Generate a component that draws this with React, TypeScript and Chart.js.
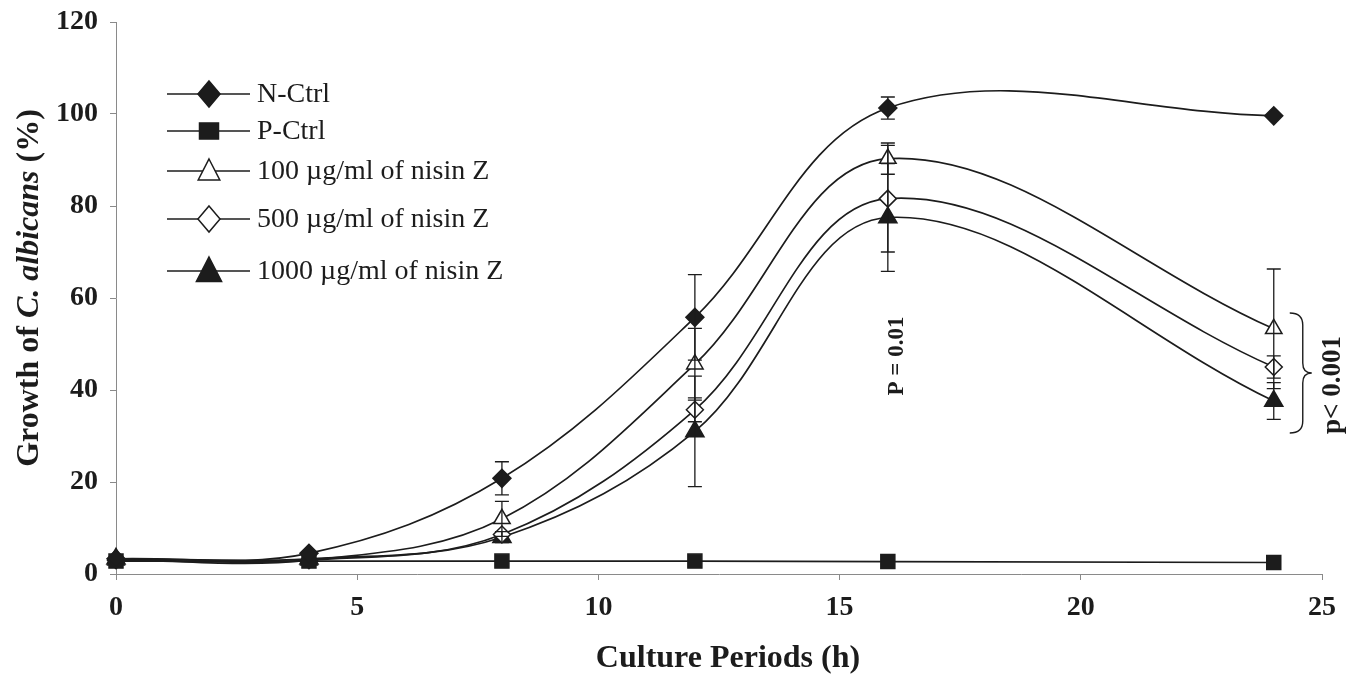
import React, { useEffect, useRef } from 'react';
import { Chart, registerables } from 'chart.js';

Chart.register(...registerables);

// ---- data ----
const hours = [0, 4, 8, 12, 16, 24];
const nCtrl = [3.3, 4.5, 20.8, 55.8, 101.3, 99.6];
const pCtrl = [2.8, 2.8, 2.8, 2.8, 2.7, 2.5];
const nisin100 = [3.0, 3.0, 12.0, 45.6, 90.3, 53.3];
const nisin500 = [3.0, 3.0, 8.6, 35.7, 81.6, 45.0];
const nisin1000 = [3.3, 3.3, 8.0, 31.0, 77.5, 37.6];

const nCtrlErr = [0, 0, 3.6, 9.3, 2.4, 0];
const pCtrlErr = [0, 0, 0, 0, 0, 0];
const nisin100Err = [0, 0, 3.8, 7.8, 3.4, 13.0];
const nisin500Err = [0, 0, 0, 2.6, 11.6, 2.4];
const nisin1000Err = [0, 0, 1.2, 12.0, 11.7, 4.0];

const seriesLabels = [
  'N-Ctrl',
  'P-Ctrl',
  '100 \u00b5g/ml of nisin Z',
  '500 \u00b5g/ml of nisin Z',
  '1000 \u00b5g/ml of nisin Z',
];
const xTickValues = [0, 5, 10, 15, 20, 25];
const yTickValues = [0, 20, 40, 60, 80, 100, 120];
const xTitle = 'Culture Periods (h)';
const yTitleParts = ['Growth of ', 'C. albicans', ' (%)'];
const note16 = 'P = 0.01';
const note24 = 'p< 0.001';

const INK = '#1c1c1c';
const SERIF = '"Liberation Serif", "DejaVu Serif", serif';

type MarkerKind = 'diamond' | 'square' | 'triangle';
const markerDefs: { kind: MarkerKind; filled: boolean; r: number; lr: number }[] = [
  { kind: 'diamond', filled: true, r: 9, lr: 13 },
  { kind: 'square', filled: true, r: 7, lr: 9.5 },
  { kind: 'triangle', filled: false, r: 9.5, lr: 12 },
  { kind: 'diamond', filled: false, r: 8.5, lr: 13 },
  { kind: 'triangle', filled: true, r: 10.5, lr: 14 },
];

function drawMarker(ctx: CanvasRenderingContext2D, kind: MarkerKind, filled: boolean, x: number, y: number, r: number) {
  ctx.save();
  ctx.beginPath();
  if (kind === 'diamond') {
    ctx.moveTo(x, y - r);
    ctx.lineTo(x + r * 0.85, y);
    ctx.lineTo(x, y + r);
    ctx.lineTo(x - r * 0.85, y);
    ctx.closePath();
  } else if (kind === 'square') {
    ctx.rect(x - r, y - r * 0.85, 2 * r, 1.7 * r);
  } else {
    ctx.moveTo(x, y - r);
    ctx.lineTo(x + r * 0.9, y + r * 0.75);
    ctx.lineTo(x - r * 0.9, y + r * 0.75);
    ctx.closePath();
  }
  ctx.fillStyle = filled ? INK : '#ffffff';
  ctx.fill();
  ctx.lineWidth = 1.5;
  ctx.strokeStyle = INK;
  ctx.stroke();
  ctx.restore();
}

const seriesValues = [nCtrl, pCtrl, nisin100, nisin500, nisin1000];
const seriesErrors = [nCtrlErr, pCtrlErr, nisin100Err, nisin500Err, nisin1000Err];

const errorBarPlugin = {
  id: 'errorBars',
  afterDatasetsDraw(chart: any) {
    const ctx: CanvasRenderingContext2D = chart.ctx;
    const xs = chart.scales.x;
    const ys = chart.scales.y;
    ctx.save();
    ctx.strokeStyle = INK;
    ctx.lineWidth = 1.3;
    seriesValues.forEach((vals, si) => {
      const errs = seriesErrors[si];
      vals.forEach((v, i) => {
        const e = errs[i];
        if (!e) return;
        const px = xs.getPixelForValue(hours[i]);
        const top = ys.getPixelForValue(v + e);
        const bot = ys.getPixelForValue(v - e);
        ctx.beginPath();
        ctx.moveTo(px, top);
        ctx.lineTo(px, bot);
        ctx.moveTo(px - 7, top);
        ctx.lineTo(px + 7, top);
        ctx.moveTo(px - 7, bot);
        ctx.lineTo(px + 7, bot);
        ctx.stroke();
      });
    });
    ctx.restore();
  },
};

const decorPlugin = {
  id: 'decor',
  afterDraw(chart: any) {
    const ctx: CanvasRenderingContext2D = chart.ctx;
    const xs = chart.scales.x;
    ctx.save();

    // legend
    const rows = [94, 131, 171, 219, 271];
    seriesLabels.forEach((label, i) => {
      const y = rows[i];
      ctx.beginPath();
      ctx.strokeStyle = INK;
      ctx.lineWidth = 1.6;
      ctx.moveTo(167, y);
      ctx.lineTo(250, y);
      ctx.stroke();
      const m = markerDefs[i];
      drawMarker(ctx, m.kind, m.filled, 209, y, m.lr);
      ctx.fillStyle = INK;
      ctx.font = `28px ${SERIF}`;
      ctx.textAlign = 'left';
      ctx.textBaseline = 'middle';
      ctx.fillText(label, 257, y + 1);
    });

    // x title
    ctx.fillStyle = INK;
    ctx.font = `bold 32px ${SERIF}`;
    ctx.textAlign = 'center';
    ctx.textBaseline = 'middle';
    ctx.fillText(xTitle, 728, 659);

    // y title (mixed styles)
    ctx.save();
    ctx.translate(30, 288);
    ctx.rotate(-Math.PI / 2);
    const fonts = [`bold 32px ${SERIF}`, `italic bold 32px ${SERIF}`, `bold 32px ${SERIF}`];
    let total = 0;
    const widths = yTitleParts.map((p, k) => {
      ctx.font = fonts[k];
      const w = ctx.measureText(p).width;
      total += w;
      return w;
    });
    let cx = -total / 2;
    ctx.textAlign = 'left';
    ctx.textBaseline = 'middle';
    yTitleParts.forEach((p, k) => {
      ctx.font = fonts[k];
      ctx.fillText(p, cx, 0);
      cx += widths[k];
    });
    ctx.restore();

    // P = 0.01 note
    ctx.save();
    ctx.translate(xs.getPixelForValue(16) + 9, 356);
    ctx.rotate(-Math.PI / 2);
    ctx.font = `bold 23px ${SERIF}`;
    ctx.textAlign = 'center';
    ctx.textBaseline = 'middle';
    ctx.fillText(note16, 0, 0);
    ctx.restore();

    // brace at 24h
    const bx = xs.getPixelForValue(24) + 16;
    const yTop = 313;
    const yBot = 433;
    const yMid = 373;
    ctx.beginPath();
    ctx.strokeStyle = INK;
    ctx.lineWidth = 1.4;
    ctx.moveTo(bx, yTop);
    ctx.quadraticCurveTo(bx + 13, yTop, bx + 13, yTop + 12);
    ctx.lineTo(bx + 13, yMid - 10);
    ctx.quadraticCurveTo(bx + 13, yMid, bx + 22, yMid);
    ctx.quadraticCurveTo(bx + 13, yMid, bx + 13, yMid + 10);
    ctx.lineTo(bx + 13, yBot - 12);
    ctx.quadraticCurveTo(bx + 13, yBot, bx, yBot);
    ctx.stroke();

    ctx.save();
    ctx.translate(1333, 385);
    ctx.rotate(-Math.PI / 2);
    ctx.font = `bold 27px ${SERIF}`;
    ctx.textAlign = 'center';
    ctx.textBaseline = 'middle';
    ctx.fillText(note24, 0, 0);
    ctx.restore();

    ctx.restore();
  },
};

function makeDataset(i: number) {
  const m = markerDefs[i];
  const style = m.kind === 'diamond' ? 'rectRot' : m.kind === 'square' ? 'rect' : 'triangle';
  const radius = m.kind === 'square' ? m.r * 1.414 : m.r;
  return {
    label: seriesLabels[i],
    data: hours.map((h, k) => ({ x: h, y: seriesValues[i][k] })),
    borderColor: INK,
    borderWidth: 1.7,
    backgroundColor: m.filled ? INK : '#ffffff',
    pointBackgroundColor: m.filled ? INK : '#ffffff',
    pointBorderColor: INK,
    pointBorderWidth: 1.5,
    pointStyle: style,
    pointRadius: radius,
    tension: i === 1 ? 0 : 0.36,
    fill: false,
    clip: false as any,
  };
}

export default function App() {
  const ref = useRef<HTMLCanvasElement>(null);
  useEffect(() => {
    if (!ref.current) return;
    const chart = new Chart(ref.current, {
      type: 'line',
      data: { datasets: [0, 1, 2, 3, 4].map(makeDataset) as any },
      options: {
        animation: false,
        responsive: true,
        maintainAspectRatio: false,
        layout: { padding: { top: 22, right: 24, left: 0, bottom: 0 } },
        plugins: { legend: { display: false }, tooltip: { enabled: false }, title: { display: false } },
        scales: {
          x: {
            type: 'linear',
            min: 0,
            max: 25,
            afterFit: (s: any) => { s.height = 104; s.paddingLeft = 0; s.paddingRight = 0; },
            afterBuildTicks: (s: any) => { s.ticks = xTickValues.map((v) => ({ value: v })); },
            grid: { drawOnChartArea: false, drawTicks: true, tickLength: 6, color: '#8a8a8a' },
            border: { display: true, color: '#8a8a8a', width: 1 },
            ticks: { color: INK, padding: 11, font: { family: SERIF, size: 28, weight: 'bold' } },
          },
          y: {
            type: 'linear',
            min: 0,
            max: 120,
            afterFit: (s: any) => { s.width = 116; s.paddingTop = 0; s.paddingBottom = 0; },
            afterBuildTicks: (s: any) => { s.ticks = yTickValues.map((v) => ({ value: v })); },
            grid: { drawOnChartArea: false, drawTicks: true, tickLength: 6, color: '#8a8a8a' },
            border: { display: true, color: '#8a8a8a', width: 1 },
            ticks: { color: INK, padding: 12, font: { family: SERIF, size: 28, weight: 'bold' } },
          },
        },
      } as any,
      plugins: [errorBarPlugin, decorPlugin],
    });
    return () => chart.destroy();
  }, []);
  return (
    <div style={{ position: 'absolute', left: 0, top: 0, width: 1346, height: 678, background: '#fff' }}>
      <canvas ref={ref} />
    </div>
  );
}
